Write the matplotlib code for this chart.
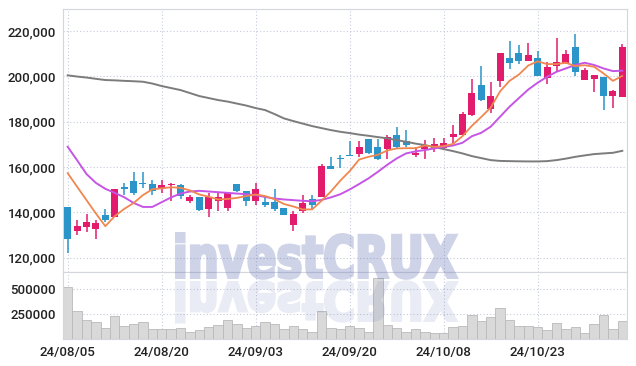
import matplotlib
matplotlib.use("Agg")
import matplotlib.pyplot as plt
import numpy as np
from matplotlib.textpath import TextPath
from matplotlib.patches import PathPatch
from matplotlib.font_manager import FontProperties
from matplotlib.transforms import Affine2D
from matplotlib.backends.backend_agg import FigureCanvasAgg

# ---------------- data ----------------
tick_positions = [0, 10, 20, 30, 40, 50]
tick_labels = ["24/08/05", "24/08/20", "24/09/03", "24/09/20", "24/10/08", "24/10/23"]

opens = [142300, 131570, 133600, 132720, 138630, 138010, 151130, 153780, 153030, 152450,
         150910, 152230, 152230, 145170, 146840, 141280, 145170, 141720, 152450, 149230,
         145080, 144500, 144500, 141850, 134220, 140400, 145700, 146580, 160400, 163930,
         165390, 165690, 172180, 168920, 168040, 174220, 171300, 165390, 167770, 168340,
         168560, 173070, 174220, 183050, 196290, 185700, 198060, 208080, 210150, 206890,
         208210, 199120, 204420, 205870, 212940, 198230, 198810, 199690, 191430, 190860]
closes = [128300, 133900, 135540, 135100, 136560, 150240, 150240, 148480, 152590, 149580,
          152010, 152670, 147150, 146840, 140970, 146840, 146580, 148340, 149500, 144810,
          150110, 143050, 141550, 138900, 139210, 143930, 143050, 160400, 159210, 163350,
          164810, 168920, 166270, 163620, 173070, 168920, 169540, 166270, 169540, 170110,
          170420, 174520, 183350, 192500, 189540, 191300, 210420, 206000, 206890, 209540,
          200260, 204110, 206180, 209710, 202030, 202650, 200570, 191430, 193510, 212940]
highs = [142300, 136560, 139070, 136560, 141280, 150500, 153030, 157970, 157970, 154080,
         154080, 153030, 152450, 147730, 147000, 148340, 148610, 148600, 152450, 149500,
         153030, 147150, 150370, 141850, 140400, 147730, 147460, 161280, 164240, 165120,
         171300, 171570, 172180, 172180, 174220, 177480, 176290, 168790, 171880, 172760,
         172980, 178370, 184240, 198670, 204550, 197480, 210500, 215450, 213950, 214830,
         211170, 206180, 216780, 211740, 218540, 203800, 200570, 199690, 193950, 214390]
lows = [122300, 129930, 131130, 128040, 135670, 137800, 147590, 147590, 150550, 147730,
        148480, 145170, 145830, 144190, 140530, 138010, 140660, 140660, 148920, 142740,
        143050, 142160, 140660, 138900, 131570, 139510, 140970, 146580, 159070, 159510,
        164810, 164500, 165690, 163040, 163620, 168340, 168920, 164240, 163350, 166580,
        167770, 170680, 174220, 182470, 189230, 183670, 195140, 203360, 205430, 206750,
        200260, 196470, 202340, 205560, 200000, 198230, 193200, 185250, 186140, 190860]
volumes = [517000, 280000, 190000, 167000, 107000, 227000, 127000, 147000, 167000, 97000,
           97000, 97000, 107000, 67000, 87000, 117000, 137000, 187000, 147000, 107000,
           127000, 167000, 147000, 97000, 127000, 97000, 67000, 280000, 107000, 97000,
           127000, 107000, 67000, 607000, 137000, 107000, 67000, 97000, 67000, 57000,
           57000, 117000, 127000, 237000, 177000, 217000, 307000, 187000, 127000, 127000,
           117000, 87000, 157000, 97000, 117000, 57000, 147000, 237000, 97000, 177000]
ma5 = [157300, 151300, 145400, 139500, 133900, 138300, 141500, 144100, 147600, 150200,
       150600, 151100, 150800, 149700, 147900, 146900, 145700, 145900, 146400, 147200,
       147900, 147200, 145800, 143700, 142600, 141300, 141300, 145100, 149200, 154000,
       158200, 163300, 164500, 165400, 167300, 168200, 168300, 168300, 169500, 168900,
       169200, 170200, 173600, 178200, 182100, 186200, 193400, 198000, 200800, 204800,
       206600, 205400, 205400, 206000, 204500, 204900, 204200, 201300, 198000, 200200]
ma20 = [168900, 163000, 156900, 153000, 150400, 148600, 146700, 144200, 142400, 142400,
        144500, 146600, 148300, 149200, 149500, 149200, 148900, 148600, 148300, 148000,
        147600, 146800, 146100, 145700, 145400, 145100, 144900, 145500, 146600, 148000,
        150100, 152500, 155000, 157900, 161000, 163800, 166000, 166900, 167500, 168200,
        168900, 169500, 170700, 173600, 175100, 177800, 182200, 186600, 190400, 194200,
        197200, 199800, 202000, 203500, 205000, 206000, 205000, 203500, 202300, 202500]
ma60 = [200440, 199910, 199470, 198900, 198370, 198230, 198010, 197840, 197620, 196820,
        195720, 194830, 193950, 192630, 191300, 190420, 189540, 188870, 187990, 187110,
        186000, 185120, 183360, 181460, 180270, 179160, 178060, 177170, 176290, 175540,
        174970, 174300, 173780, 173200, 172630, 171880, 171130, 170330, 169670, 168790,
        167900, 167020, 166000, 164810, 163930, 163050, 162690, 162600, 162520, 162470,
        162470, 162600, 163050, 163710, 164500, 165120, 165700, 166000, 166270, 167150]
price_ticks = [120000, 140000, 160000, 180000, 200000, 220000]
volume_ticks = [250000, 500000]

# ---------------- style ----------------
RED = "#e31b6d"
BLUE = "#2b95c9"
GRID = "#c6cadd"
SPINE = "#d4d6de"
TXT = "#222222"
FONT = "Roboto"

W, H = 636, 366
L, R = 63, 627
TOP, MID, BOT = 9, 272, 339

fig = plt.figure(figsize=(W / 100, H / 100), dpi=100)
ax = fig.add_axes([L / W, 1 - MID / H, (R - L) / W, (MID - TOP) / H])
axv = fig.add_axes([L / W, 1 - BOT / H, (R - L) / W, (BOT - MID) / H], sharex=ax)

x = np.arange(len(opens))
o = np.array(opens, float)
c = np.array(closes, float)
hi = np.array(highs, float)
lo = np.array(lows, float)
cols = np.where(c >= o, RED, BLUE)

for a in (ax, axv):
    a.set_axisbelow(True)
    a.grid(True, linestyle=(0, (1, 2)), color=GRID, linewidth=0.8)
    for s in a.spines.values():
        s.set_color(SPINE)
        s.set_linewidth(0.8)
    a.tick_params(length=0, labelsize=9.5, labelcolor=TXT, pad=5)

ax.vlines(x, lo, hi, colors=cols, linewidth=1.1, zorder=3)
ax.bar(x, np.maximum(np.abs(c - o), 350), bottom=np.minimum(o, c), width=0.74,
       color=cols, edgecolor="none", zorder=4)
ax.plot(x, ma60, color="#7c7c7c", linewidth=1.4, zorder=5)
ax.plot(x, ma20, color="#c655e6", linewidth=1.4, zorder=5)
ax.plot(x, ma5, color="#f0874f", linewidth=1.3, zorder=6)

ax.set_xlim(-0.5, len(opens) - 0.5)
ax.set_ylim(113700, 229700)
ax.set_yticks(price_ticks)
ax.set_yticklabels([f"{v:,}" for v in price_ticks], fontfamily=FONT, fontweight="medium")
plt.setp(ax.get_xticklabels(), visible=False)

axv.bar(x, volumes, width=1.0, color="#d9d9d9", edgecolor="#b9b9b9", linewidth=0.6, zorder=2)
axv.set_ylim(0, 670000)
axv.set_yticks(volume_ticks)
axv.set_yticklabels([str(v) for v in volume_ticks], fontfamily=FONT, fontweight="medium")
axv.set_xticks(tick_positions)
axv.set_xticklabels(tick_labels, fontfamily=FONT, fontweight="medium")

# ---------------- watermark (heavy, uniformly translucent) ----------------
fp = FontProperties(family="DejaVu Sans", weight="bold")
tp = TextPath((0, 0), "investCRUX", prop=fp, size=1)
ext = tp.get_extents()
stroke = 3.0  # px added around glyphs
bx0, bx1 = 175 + stroke / 2, 458 - stroke / 2
base, top = H - 279 + stroke / 2, H - 232 - stroke / 2
sx = (bx1 - bx0) / ext.width
sy = (top - base) / ext.y1


def mask_for(yscale, yshift):
    mfig = plt.figure(figsize=(W / 100, H / 100), dpi=100)
    mfig.patch.set_facecolor("black")
    tr = (Affine2D().translate(-ext.x0, 0).scale(sx, yscale).translate(bx0, yshift)
          + Affine2D().scale(1 / W, 1 / H) + mfig.transFigure)
    mfig.add_artist(PathPatch(tp, transform=tr, facecolor="white", edgecolor="white",
                              linewidth=stroke * 0.72))
    canvas = FigureCanvasAgg(mfig)
    canvas.draw()
    m = np.asarray(canvas.buffer_rgba())[:, :, 0].astype(float) / 255.0
    plt.close(mfig)
    return m


m_main = mask_for(sy, base)
m_refl = mask_for(-sy * 0.9, base - 2 - stroke)
alpha = np.clip(m_main * 0.31 + m_refl * 0.13, 0, 1)
rgba = np.zeros((H, W, 4))
rgba[:, :, 0] = 100 / 255
rgba[:, :, 1] = 115 / 255
rgba[:, :, 2] = 180 / 255
rgba[:, :, 3] = alpha
fig.figimage(rgba, xo=0, yo=0, origin="upper", zorder=10)

fig.savefig("out.png", dpi=100)
